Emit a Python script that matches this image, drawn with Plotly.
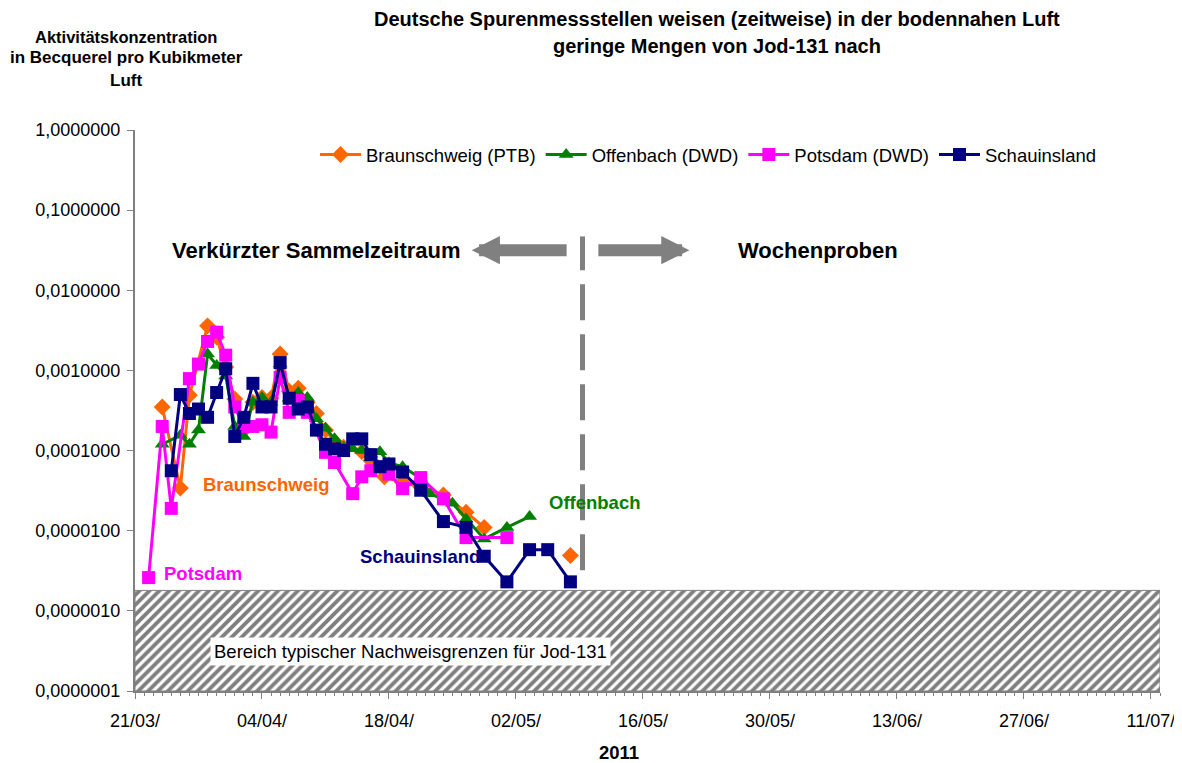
import plotly.graph_objects as go

FONT = "Arial, Liberation Sans, sans-serif"

# Braunschweig (PTB)
bs_dates = ["2011-03-24", "2011-03-26", "2011-03-27", "2011-03-29", "2011-03-30", "2011-03-31",
            "2011-04-01", "2011-04-02", "2011-04-03", "2011-04-04", "2011-04-05", "2011-04-06",
            "2011-04-07", "2011-04-08", "2011-04-09", "2011-04-10", "2011-04-11", "2011-04-12",
            "2011-04-13", "2011-04-15", "2011-04-16", "2011-04-17 12:00", "2011-04-19 12:00",
            "2011-04-21 12:00", "2011-04-24", "2011-04-26 12:00", "2011-04-28 12:00",
            "2011-05-03", "2011-05-08"]
bs_vals = [3.5e-4, 3.4e-5, 4.9e-4, 3.6e-3, 2.6e-3, 1.1e-3,
           4.4e-4, 1.8e-4, 4.0e-4, 4.6e-4, 4.5e-4, 1.6e-3,
           5.5e-4, 6.0e-4, 4.0e-4, 2.9e-4, 1.8e-4, 1.3e-4,
           1.1e-4, 9.7e-5, 7.5e-5, 4.7e-5, 4.0e-5,
           3.5e-5, 2.8e-5, 1.7e-5, 1.1e-5,
           None, 4.9e-6]

# Offenbach (DWD)
of_dates = ["2011-03-24", "2011-03-26", "2011-03-27", "2011-03-28", "2011-03-29", "2011-03-30",
            "2011-03-31", "2011-04-01", "2011-04-02", "2011-04-03", "2011-04-04", "2011-04-05",
            "2011-04-06", "2011-04-07", "2011-04-08", "2011-04-09", "2011-04-10", "2011-04-11",
            "2011-04-12", "2011-04-13", "2011-04-14", "2011-04-15", "2011-04-16", "2011-04-17",
            "2011-04-18", "2011-04-19 12:00", "2011-04-21 12:00", "2011-04-22 12:00",
            "2011-04-25", "2011-04-26 12:00", "2011-04-28 12:00", "2011-05-01",
            "2011-05-03 12:00"]
of_vals = [1.2e-4, 1.55e-4, 1.2e-4, 1.8e-4, 1.6e-3, 1.15e-3,
           8.5e-4, 2.0e-4, 1.5e-4, 4.0e-4, 4.6e-4, 4.0e-4,
           1.2e-3, 4.5e-4, 5.3e-4, 4.6e-4, 2.5e-4, 1.9e-4,
           1.4e-4, 1.1e-4, 1.05e-4, 1.0e-4, 9.0e-5, 9.7e-5,
           7.0e-5, 6.3e-5, 4.5e-5, 2.9e-5,
           2.2e-5, 1.4e-5, 7.9e-6, 1.1e-5,
           1.5e-5]

# Potsdam (DWD)
po_dates = ["2011-03-22 12:00", "2011-03-24", "2011-03-25", "2011-03-27", "2011-03-28", "2011-03-29",
            "2011-03-30", "2011-03-31", "2011-04-01", "2011-04-02", "2011-04-03", "2011-04-04",
            "2011-04-05", "2011-04-06", "2011-04-07", "2011-04-08", "2011-04-09", "2011-04-11",
            "2011-04-12", "2011-04-14", "2011-04-15", "2011-04-16", "2011-04-18", "2011-04-19 12:00",
            "2011-04-21 12:00", "2011-04-24", "2011-04-26 12:00", "2011-05-01"]
po_vals = [2.6e-6, 2.0e-4, 1.9e-5, 7.9e-4, 1.2e-3, 2.3e-3,
           3.0e-3, 1.55e-3, 3.5e-4, 2.0e-4, 2.0e-4, 2.1e-4,
           1.7e-4, 8.2e-4, 3.0e-4, 4.2e-4, 3.0e-4, 9.5e-5,
           7.1e-5, 2.9e-5, 4.7e-5, 5.6e-5, 5.1e-5, 3.35e-5,
           4.6e-5, 2.5e-5, 8.2e-6, 8.2e-6]

# Schauinsland
sc_dates = ["2011-03-25", "2011-03-26", "2011-03-27", "2011-03-28", "2011-03-29", "2011-03-30",
            "2011-03-31", "2011-04-01", "2011-04-02", "2011-04-03", "2011-04-04", "2011-04-05",
            "2011-04-06", "2011-04-07", "2011-04-08", "2011-04-09", "2011-04-10", "2011-04-11",
            "2011-04-12", "2011-04-13", "2011-04-14", "2011-04-15", "2011-04-16", "2011-04-17",
            "2011-04-18", "2011-04-19 12:00", "2011-04-21 12:00", "2011-04-24", "2011-04-26 12:00",
            "2011-04-28 12:00", "2011-05-01", "2011-05-03 12:00", "2011-05-05 12:00", "2011-05-08"]
sc_vals = [5.6e-5, 5.0e-4, 2.9e-4, 3.3e-4, 2.6e-4, 5.3e-4,
           1.05e-3, 1.5e-4, 2.6e-4, 6.9e-4, 3.5e-4, 3.5e-4,
           1.25e-3, 4.5e-4, 3.3e-4, 3.5e-4, 1.8e-4, 1.2e-4,
           1.05e-4, 1.0e-4, 1.4e-4, 1.4e-4, 8.9e-5, 6.3e-5,
           6.8e-5, 5.4e-5, 3.2e-5, 1.3e-5, 1.1e-5,
           4.8e-6, 2.3e-6, 5.8e-6, 5.8e-6, 2.3e-6]

# Achsen
X_RANGE = ["2011-03-21", "2011-07-12"]
Y_TICKVALS = [1e-7, 1e-6, 1e-5, 1e-4, 1e-3, 1e-2, 1e-1, 1]
Y_TICKTEXT = ["0,0000001", "0,0000010", "0,0000100", "0,0001000",
              "0,0010000", "0,0100000", "0,1000000", "1,0000000"]

# Nachweisgrenzen-Bereich und Trennlinie
NWG_TOP = 1.8e-6
SPLIT_DATE = "2011-05-09 08:00"
SPLIT_Y = [3.2e-6, 0.047]

C_BS = "#FF6600"
C_OF = "#008000"
C_PO = "#FF00FF"
C_SC = "#000080"
C_GREY = "#808080"

# Fenster 1182x763, Seite hat 8px Rand -> Figur etwas kleiner
OFF = 8
W, H = 1182 - OFF, 763 - OFF
# Plotbereich in Fensterpixeln
L, R, T, B = 135, 1160, 130, 691


def px(x):
    return (x - L) / (R - L)


def py(y):
    return (B - y) / (B - T)


fig = go.Figure()

# schraffierter Bereich typischer Nachweisgrenzen
fig.add_trace(go.Scatter(
    x=[X_RANGE[0], X_RANGE[1], X_RANGE[1], X_RANGE[0], X_RANGE[0]],
    y=[1e-7, 1e-7, NWG_TOP, NWG_TOP, 1e-7],
    fill="toself", mode="lines", line=dict(color=C_GREY, width=1),
    fillpattern=dict(shape="/", size=7, solidity=0.55, fgcolor="black", bgcolor="white"),
    showlegend=False, hoverinfo="skip"))

# Trennlinie
fig.add_trace(go.Scatter(
    x=[SPLIT_DATE, SPLIT_DATE], y=SPLIT_Y, mode="lines",
    line=dict(color=C_GREY, width=5, dash="36px,14px"),
    showlegend=False, hoverinfo="skip"))

for name, xs, ys, col, sym, size in [
        ("Braunschweig (PTB)", bs_dates, bs_vals, C_BS, "diamond", 13),
        ("Offenbach (DWD)", of_dates, of_vals, C_OF, "triangle-up", 13),
        ("Potsdam (DWD)", po_dates, po_vals, C_PO, "square", 13),
        ("Schauinsland", sc_dates, sc_vals, C_SC, "square", 13)]:
    fig.add_trace(go.Scatter(
        x=xs, y=ys, name=name, mode="lines+markers",
        line=dict(color=col, width=3),
        marker=dict(symbol=sym, size=size, color=col)))

# Pfeile
arrow = dict(xref="x", yref="y", axref="x", ayref="y", text="", showarrow=True,
             arrowhead=2, arrowsize=0.47, arrowwidth=12, arrowcolor=C_GREY)
fig.add_annotation(x="2011-04-27 03:00", y=-1.5, ax="2011-05-07 18:00", ay=-1.5, **arrow)
fig.add_annotation(x="2011-05-21 03:00", y=-1.5, ax="2011-05-10 22:00", ay=-1.5, **arrow)

texts = [
    ("<b>Verkürzter Sammelzeitraum</b>", 463, 250, "right", 22, "black"),
    ("<b>Wochenproben</b>", 818, 250, "center", 22, "black"),
    ("<b>Braunschweig</b>", 266, 484, "center", 18.5, C_BS),
    ("<b>Potsdam</b>", 203, 573, "center", 18.5, C_PO),
    ("<b>Schauinsland</b>", 420, 556, "center", 18.5, C_SC),
    ("<b>Offenbach</b>", 594, 502, "center", 18.5, C_OF),
    ("<b>Deutsche Spurenmessstellen weisen (zeitweise) in der bodennahen Luft</b>", 717, 19, "center", 20, "black"),
    ("<b>geringe Mengen von Jod-131 nach</b>", 717, 46, "center", 20, "black"),
    ("<b>Aktivitätskonzentration</b>", 126, 37, "center", 16.5, "black"),
    ("<b>in Becquerel pro Kubikmeter</b>", 126, 58, "center", 17, "black"),
    ("<b>Luft</b>", 126, 80, "center", 17, "black"),
    ("<b>2011</b>", 619, 752, "center", 18.5, "black"),
]
for txt, x, y, xa, sz, col in texts:
    fig.add_annotation(text=txt, xref="paper", yref="paper", x=px(x), y=py(y),
                       xanchor=xa, yanchor="middle", showarrow=False,
                       font=dict(family=FONT, size=sz, color=col))

fig.add_annotation(text="Bereich typischer Nachweisgrenzen für Jod-131",
                   xref="paper", yref="paper", x=px(410), y=py(651),
                   xanchor="center", yanchor="middle", showarrow=False,
                   bgcolor="white", borderpad=3,
                   font=dict(family=FONT, size=18.5, color="black"))

fig.update_layout(
    width=W, height=H,
    margin=dict(l=L - OFF, r=1182 - R, t=T - OFF, b=763 - B, autoexpand=False),
    paper_bgcolor="white", plot_bgcolor="white",
    font=dict(family=FONT, size=18, color="black"),
    legend=dict(orientation="h", x=px(315), y=py(155), xanchor="left", yanchor="middle",
                bgcolor="rgba(0,0,0,0)", font=dict(size=18.5), itemwidth=41),
    xaxis=dict(type="date", range=X_RANGE, tick0="2011-03-21", dtick=14 * 86400000,
               tickformat="%d/%m/", ticks="outside", ticklen=6, tickcolor=C_GREY,
               ticklabelstandoff=6, automargin=False, ticklabeloverflow="allow",
               showline=True, linecolor=C_GREY, linewidth=2, showgrid=False, zeroline=False,
               minor=dict(dtick=86400000, ticks="outside", ticklen=3, tickcolor=C_GREY,
                          showgrid=False)),
    yaxis=dict(type="log", range=[-7, 0], tickvals=Y_TICKVALS, ticktext=Y_TICKTEXT,
               ticks="outside", ticklen=6, tickcolor=C_GREY, ticklabelstandoff=3,
               automargin=False, showline=True,
               linecolor=C_GREY, linewidth=2, showgrid=False, zeroline=False),
)

fig.write_html("out.html")
